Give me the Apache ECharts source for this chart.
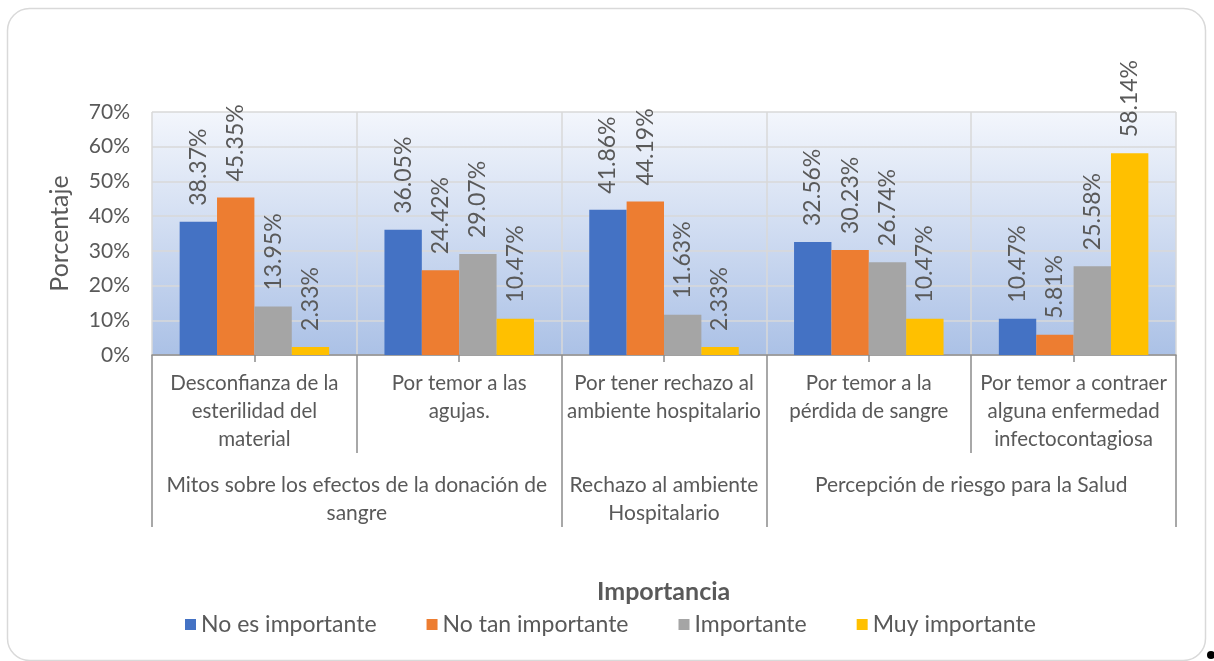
<!DOCTYPE html>
<html>
<head>
<meta charset="utf-8">
<script src="https://cdn.jsdelivr.net/npm/echarts@6/dist/echarts.min.js"></script>
<style>
  html, body { margin: 0; padding: 0; background: #fff; }
  #chart { width: 1214px; height: 661px; }
</style>
</head>
<body>
<div id="chart"></div>
<script>
// categories (first level) and their groups (second level)
const categories = [
  'Desconfianza de la\nesterilidad del\nmaterial',
  'Por temor a las\nagujas.',
  'Por tener rechazo al\nambiente hospitalario',
  'Por temor a la\npérdida de sangre',
  'Por temor a contraer\nalguna enfermedad\ninfectocontagiosa'
];
const groups = [
  'Mitos sobre los efectos de la donación de\nsangre',
  'Rechazo al ambiente\nHospitalario',
  'Percepción de riesgo para la Salud'
];
const groupSpans = [2, 1, 2];

const seriesNames = ['No es importante', 'No tan importante', 'Importante', 'Muy importante'];
const noEsImportante = [38.37, 36.05, 41.86, 32.56, 10.47];
const noTanImportante = [45.35, 24.42, 44.19, 30.23, 5.81];
const importante = [13.95, 29.07, 11.63, 26.74, 25.58];
const muyImportante = [2.33, 10.47, 2.33, 10.47, 58.14];

const yTicks = [0, 10, 20, 30, 40, 50, 60, 70];

const colors = ['#4472c4', '#ed7d31', '#a5a5a5', '#ffc000'];
const textColor = '#595959';
const font = 'Lato';

// group boundaries and centres on a 0..n value scale
const bounds = [0];
groupSpans.forEach(s => bounds.push(bounds[bounds.length - 1] + s));
const centres = groupSpans.map((s, i) => bounds[i] + s / 2);
const catBounds = categories.map((c, i) => i).concat([categories.length]);

const chart = echarts.init(document.getElementById('chart'));

const values = [noEsImportante, noTanImportante, importante, muyImportante];

chart.setOption({
  animation: false,
  textStyle: { fontFamily: font },
  title: {
    text: 'Importancia',
    left: 592,
    top: 574,
    textStyle: { fontFamily: font, fontSize: 25, fontWeight: 'bold', color: textColor }
  },
  legend: {
    data: seriesNames,
    left: 180,
    top: 608,
    icon: 'rect',
    itemWidth: 11,
    itemHeight: 11,
    itemGap: 50,
    textStyle: { fontFamily: font, fontSize: 23, color: textColor }
  },
  graphic: [
    {
      type: 'rect',
      shape: { x: 7.5, y: 8.5, width: 1198, height: 652, r: 22 },
      style: { fill: 'none', stroke: '#d9d9d9', lineWidth: 1.5 },
      silent: true
    },
    {
      type: 'circle',
      shape: { cx: 1211, cy: 655, r: 4 },
      style: { fill: '#000' },
      silent: true
    }
  ],
  grid: {
    left: 152,
    right: 38,
    top: 112,
    bottom: 306,
    show: true,
    borderWidth: 0,
    backgroundColor: new echarts.graphic.LinearGradient(0, 0, 0, 1, [
      { offset: 0, color: '#f3f6fc' },
      { offset: 1, color: '#abc1e6' }
    ])
  },
  xAxis: [
    {
      type: 'category',
      data: categories,
      position: 'bottom',
      axisLine: { lineStyle: { color: '#8c8c8c', width: 1.5 } },
      axisTick: { show: true, alignWithLabel: true, length: 7, lineStyle: { color: '#8c8c8c', width: 1.5 } },
      splitLine: { show: true, lineStyle: { color: '#d9d9d9', width: 1.5 } },
      axisLabel: {
        interval: 0,
        margin: 14,
        lineHeight: 28,
        fontSize: 20.5,
        color: textColor,
        fontFamily: font
      }
    },
    {
      // first-level separators
      type: 'value',
      min: 0,
      max: categories.length,
      position: 'bottom',
      axisLine: { show: false },
      splitLine: { show: false },
      axisTick: { show: true, customValues: catBounds, length: 98, lineStyle: { color: '#8c8c8c', width: 1.5 } },
      axisLabel: { show: false }
    },
    {
      // second level: groups
      type: 'value',
      min: 0,
      max: categories.length,
      position: 'bottom',
      axisLine: { show: false },
      splitLine: { show: false },
      axisTick: { show: true, customValues: bounds, length: 172, lineStyle: { color: '#8c8c8c', width: 1.5 } },
      axisLabel: {
        show: true,
        customValues: centres,
        formatter: v => {
          const i = centres.indexOf(v);
          return i >= 0 ? groups[i] : '';
        },
        margin: 116,
        lineHeight: 28,
        fontSize: 21,
        color: textColor,
        fontFamily: font,
        hideOverlap: false
      }
    }
  ],
  yAxis: {
    type: 'value',
    min: 0,
    max: 70,
    interval: 10,
    name: 'Porcentaje',
    nameLocation: 'middle',
    nameGap: 80,
    nameTextStyle: { fontFamily: font, fontSize: 25, color: textColor },
    axisLine: { show: false },
    axisTick: { show: false },
    axisLabel: { formatter: '{value}%', fontSize: 21, color: textColor, fontFamily: font, margin: 22 },
    splitLine: { lineStyle: { color: '#d9d9d9', width: 1.5 } }
  },
  series: seriesNames.map((name, k) => ({
    name: name,
    type: 'bar',
    xAxisIndex: 0,
    data: values[k],
    barGap: 0,
    barCategoryGap: '27%',
    itemStyle: { color: colors[k] },
    label: {
      show: true,
      position: 'top',
      rotate: 90,
      align: 'left',
      verticalAlign: 'middle',
      distance: 16,
      fontSize: 23,
      color: textColor,
      fontFamily: font,
      formatter: p => p.value.toFixed(2) + '%'
    }
  }))
});
</script>
</body>
</html>
